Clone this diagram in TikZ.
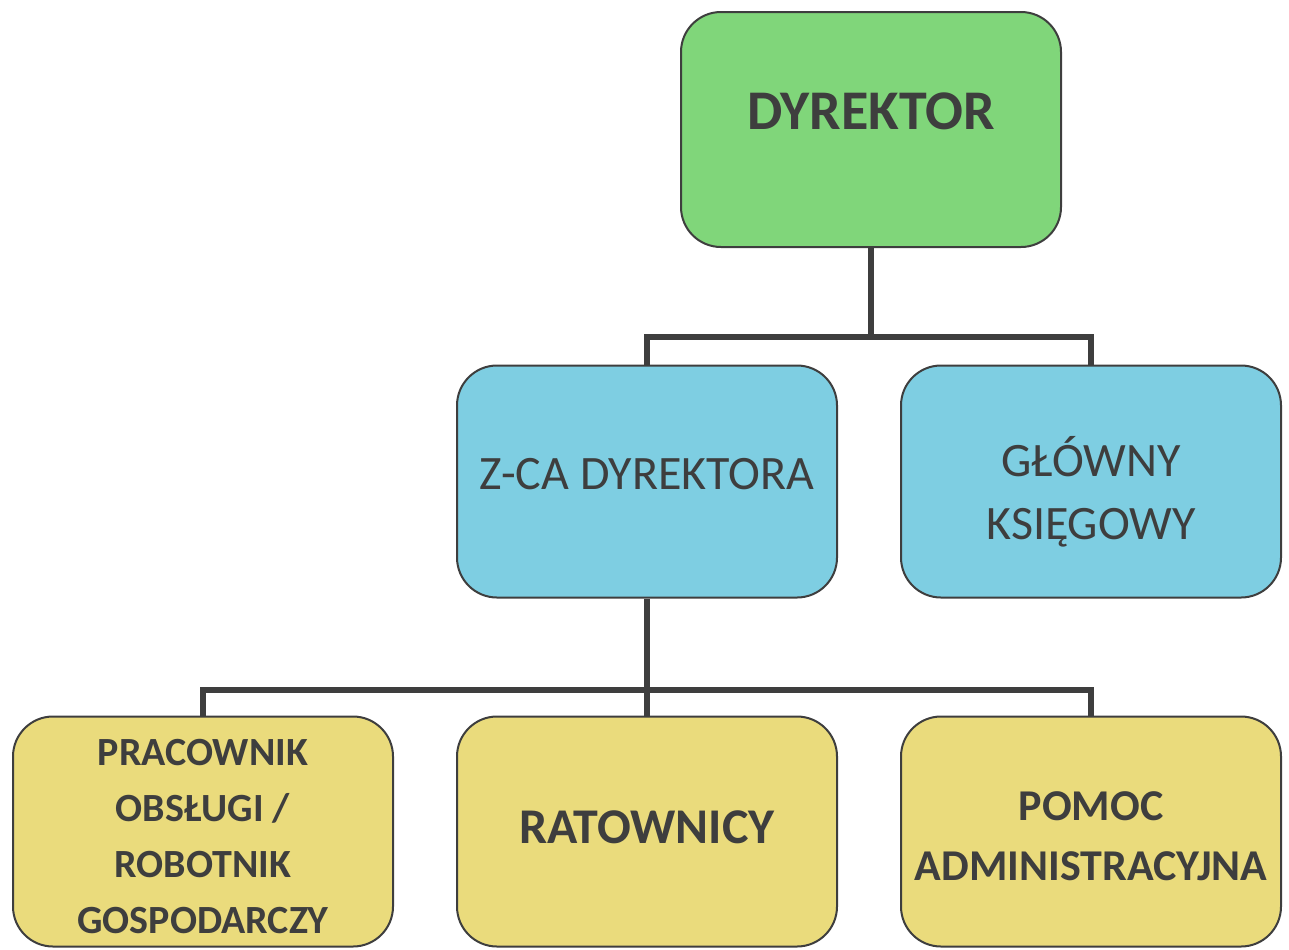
\documentclass[tikz,border=0pt]{standalone}
\usepackage{fontspec}
\setmainfont{Carlito}
\usepackage{tikz}
\usetikzlibrary{positioning}
\usepackage{xcolor}
\definecolor{dyrgreen}{RGB}{128,214,122}
\definecolor{midblue}{RGB}{126,206,226}
\definecolor{lowyellow}{RGB}{234,219,124}
\definecolor{inkgray}{RGB}{62,62,62}
% text placed on the box centre by its baseline, then raised by #1
\newcommand{\oneline}[2]{\raisebox{#1}[0pt][0pt]{#2}}
\newcommand{\stacked}[2]{\raisebox{#1}[0pt][0pt]{\begin{tabular}[b]{@{}c@{}}#2\end{tabular}}}

\begin{document}
\begin{tikzpicture}[
  x=0.5pt, y=-0.5pt,
  node distance=58.5pt and 31pt,
  unit/.style={draw=inkgray, line width=1pt, rounded corners=20pt, align=center, text=inkgray, minimum width=190pt, minimum height=116pt, inner sep=2pt},
  topbox/.style={unit, fill=dyrgreen, font=\bfseries\fontsize{28}{34}\selectfont},
  midbox/.style={unit, fill=midblue, font=\fontsize{24}{31.5}\selectfont},
  lowbox/.style={unit, fill=lowyellow, minimum height=115pt, font=\bfseries\fontsize{20}{28}\selectfont},
  link/.style={draw=inkgray, line width=2.7pt}
]
\useasboundingbox (0,0) rectangle (1289,949);
\node[topbox, minimum height=117.5pt] (dyr) at (871,129.5) {\oneline{0pt}{DYREKTOR}};
\node[midbox] (zca) at (647,481.5) {\oneline{-4pt}{Z-CA DYREKTORA}};
\node[midbox, right=of zca] (gk) {\stacked{-29pt}{GŁÓWNY\\KSIĘGOWY}};

\node[lowbox, below=of zca, font=\bfseries\fontsize{25}{30}\selectfont] (rat) {\oneline{-6pt}{RATOWNICY}};
\node[lowbox, left=of rat] (prac) {\stacked{-51pt}{PRACOWNIK\\OBSŁUGI /\\ROBOTNIK\\GOSPODARCZY}};
\node[lowbox, right=of rat, font=\bfseries\fontsize{22}{30}\selectfont] (pomoc) {\stacked{-24.5pt}{POMOC\\ADMINISTRACYJNA}};

\coordinate (fork1) at (871,337);
\coordinate (fork2) at (647,690);
\draw[link] (dyr.south) -- (fork1);
\draw[link] (zca.north) |- (fork1) -| (gk.north);
\draw[link] (zca.south) -- (fork2);
\draw[link] (prac.north) |- (fork2) -| (pomoc.north);
\draw[link] (fork2) -- (rat.north);
\end{tikzpicture}
\end{document}
